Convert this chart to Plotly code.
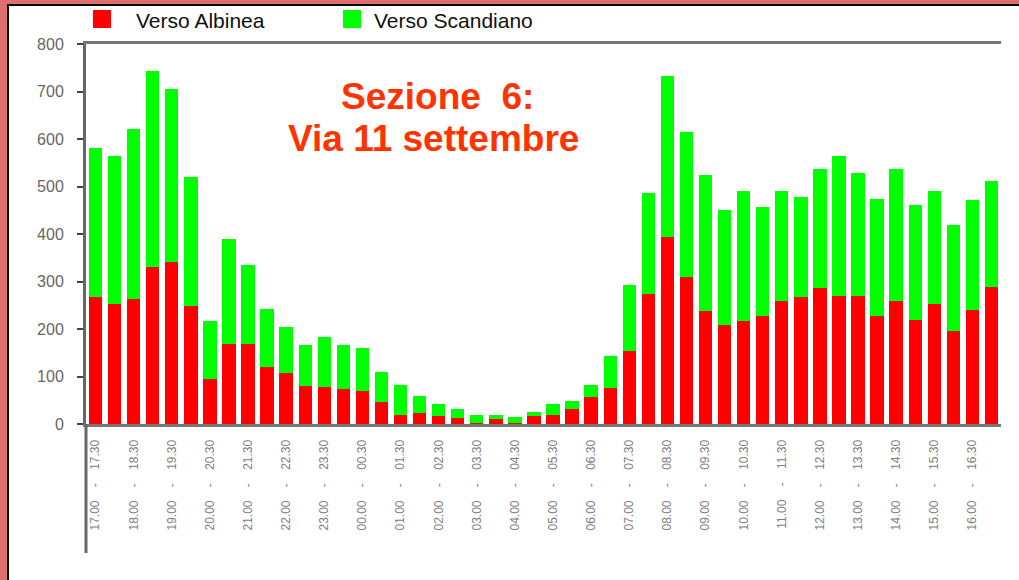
import plotly.graph_objects as go

# fasce orarie (mezz'ora)
fasce = ["17.00-17.30", "17.30-18.00", "18.00-18.30", "18.30-19.00", "19.00-19.30", "19.30-20.00",
         "20.00-20.30", "20.30-21.00", "21.00-21.30", "21.30-22.00", "22.00-22.30", "22.30-23.00",
         "23.00-23.30", "23.30-00.00", "00.00-00.30", "00.30-01.00", "01.00-01.30", "01.30-02.00",
         "02.00-02.30", "02.30-03.00", "03.00-03.30", "03.30-04.00", "04.00-04.30", "04.30-05.00",
         "05.00-05.30", "05.30-06.00", "06.00-06.30", "06.30-07.00", "07.00-07.30", "07.30-08.00",
         "08.00-08.30", "08.30-09.00", "09.00-09.30", "09.30-10.00", "10.00-10.30", "10.30-11.00",
         "11.00-11.30", "11.30-12.00", "12.00-12.30", "12.30-13.00", "13.00-13.30", "13.30-14.00",
         "14.00-14.30", "14.30-15.00", "15.00-15.30", "15.30-16.00", "16.00-16.30", "16.30-17.00"]

verso_albinea = [268, 253, 264, 330, 342, 248, 95, 169, 168, 119, 107, 79,
                 77, 74, 69, 46, 20, 23, 17, 13, 3, 10, 2, 16,
                 20, 32, 57, 76, 154, 274, 393, 309, 237, 209, 217, 228,
                 260, 268, 286, 269, 269, 228, 260, 219, 253, 196, 241, 288]

verso_scandiano = [314, 312, 357, 414, 363, 273, 122, 221, 167, 123, 98, 88,
                   107, 92, 91, 64, 63, 36, 26, 19, 17, 10, 13, 10,
                   23, 16, 25, 67, 139, 212, 339, 305, 287, 242, 274, 229,
                   231, 210, 251, 296, 259, 246, 277, 242, 238, 223, 231, 224]

ytick_vals = [0, 100, 200, 300, 400, 500, 600, 700, 800]

W, H = 1019, 580
L, R, T, B = 86, 18, 44, 156
pw, ph = W - L - R, H - T - B


def px(x):
    return (x - L) / pw


def py(y):
    return (H - B - y) / ph


fig = go.Figure()
fig.add_trace(go.Bar(x=fasce, y=verso_albinea, name="Verso Albinea",
                     marker=dict(color="#ff0000", line_width=0)))
fig.add_trace(go.Bar(x=fasce, y=verso_scandiano, name="Verso Scandiano",
                     marker=dict(color="#00ff00", line_width=0)))

fig.update_layout(
    width=W, height=H,
    margin=dict(l=L, r=R, t=T, b=B),
    barmode="stack", bargap=0.3,
    showlegend=False,
    paper_bgcolor="#dc6e6e",
    plot_bgcolor="white",
    font=dict(family="Liberation Sans, Arial, sans-serif"),
)

fig.update_xaxes(
    type="category",
    tickvals=fasce[::2],
    ticktext=[f.replace("-", "    -    ") for f in fasce[::2]],
    tickangle=-90,
    tickfont=dict(size=12, color="#808080"),
    ticks="", ticklabelstandoff=8,
    showline=True, linecolor="#777777", linewidth=3, mirror=True,
    showgrid=False, layer="below traces",
)
fig.update_yaxes(
    range=[0, 800],
    tickvals=ytick_vals,
    tickfont=dict(size=16, color="#666666"),
    ticks="outside", ticklen=6, tickwidth=2, tickcolor="#444444",
    ticklabelstandoff=10,
    showline=True, linecolor="#666666", linewidth=3,
    showgrid=False, zeroline=False,
)

# pannello bianco con bordo nero
fig.add_shape(type="rect", xref="paper", yref="paper", layer="below",
              x0=px(8), x1=px(W + 10), y0=py(H + 10), y1=py(5),
              fillcolor="white", line=dict(color="black", width=2))
# prolungamento asse verticale
fig.add_shape(type="line", xref="paper", yref="paper",
              x0=0, x1=0, y0=0, y1=py(553),
              line=dict(color="#666666", width=3))

# legenda
fig.add_shape(type="rect", xref="paper", yref="paper",
              x0=px(93), x1=px(111), y0=py(28), y1=py(10),
              fillcolor="#ff0000", line_width=0)
fig.add_shape(type="rect", xref="paper", yref="paper",
              x0=px(343), x1=px(361), y0=py(28), y1=py(10),
              fillcolor="#00ff00", line_width=0)
fig.add_annotation(text="Verso Albinea", xref="paper", yref="paper",
                   x=px(134), y=py(20), xanchor="left", yanchor="middle",
                   showarrow=False, font=dict(size=21, color="#111111"))
fig.add_annotation(text="Verso Scandiano", xref="paper", yref="paper",
                   x=px(372), y=py(20), xanchor="left", yanchor="middle",
                   showarrow=False, font=dict(size=21, color="#111111"))

# titolo
fig.add_annotation(text="<b>Sezione  6:</b>", xref="paper", yref="paper",
                   x=px(437), y=py(96), xanchor="center", yanchor="middle",
                   showarrow=False, font=dict(size=37, color="#ff3300"))
fig.add_annotation(text="<b>Via 11 settembre</b>", xref="paper", yref="paper",
                   x=px(433), y=py(138), xanchor="center", yanchor="middle",
                   showarrow=False, font=dict(size=37, color="#ff3300"))

fig.write_html("out.html", config={"displayModeBar": False},
               post_script="document.body.style.margin='0';")
